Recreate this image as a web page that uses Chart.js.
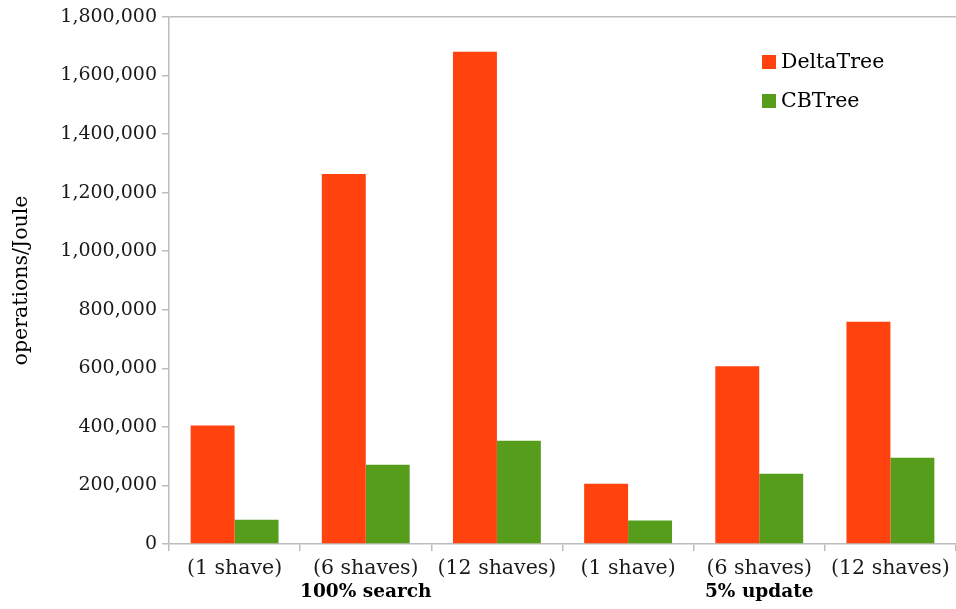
<!DOCTYPE html>
<html><head><meta charset="utf-8">
<script src="https://cdn.jsdelivr.net/npm/chart.js@4"></script>
<style>html,body{margin:0;padding:0;background:#fff}#wrap{width:956px;height:609px;position:relative}</style>
</head><body><div id="wrap"><canvas id="c"></canvas></div>
<script>
const categories = ["(1 shave)", "(6 shaves)", "(12 shaves)", "(1 shave)", "(6 shaves)", "(12 shaves)"];
const groupLabels = ["100% search", "5% update"];
const groupCenterIndex = [1, 4];
const deltaTree = [405000, 1264000, 1681000, 206000, 607000, 759000];
const cbTree = [83000, 271000, 353000, 80000, 240000, 295000];
const seriesNames = ["DeltaTree", "CBTree"];
const seriesColors = ["#ff420e", "#579d1c"];

const FONT = "'DejaVu Serif', serif";
const AXIS = "#bdbdbd";

const extras = {
  id: "extras",
  afterDraw(chart) {
    const ctx = chart.ctx, x = chart.scales.x;
    ctx.save();
    ctx.fillStyle = "#000";
    ctx.font = "bold 18.5px " + FONT;
    ctx.textAlign = "center";
    ctx.textBaseline = "middle";
    groupLabels.forEach((g, i) => {
      ctx.fillText(g, x.getPixelForValue(groupCenterIndex[i]), 592);
    });
    ctx.font = "20.5px " + FONT;
    ctx.textAlign = "left";
    chart.data.datasets.forEach((d, i) => {
      const y = 62 + i * 39;
      ctx.fillStyle = d.backgroundColor;
      ctx.fillRect(762, y - 7, 14, 14);
      ctx.fillStyle = "#000";
      ctx.fillText(d.label, 781, y + 1);
    });
    ctx.restore();
  }
};

new Chart(document.getElementById("c"), {
  type: "bar",
  data: {
    labels: categories,
    datasets: [
      { label: seriesNames[0], data: deltaTree, backgroundColor: seriesColors[0] },
      { label: seriesNames[1], data: cbTree, backgroundColor: seriesColors[1] }
    ]
  },
  options: {
    responsive: true,
    maintainAspectRatio: false,
    animation: false,
    layout: { padding: { top: 17, right: 0, left: 0, bottom: 0 } },
    datasets: { bar: { categoryPercentage: 0.67, barPercentage: 1.0 } },
    plugins: { legend: { display: false }, tooltip: { enabled: false } },
    scales: {
      x: {
        offset: true,
        grid: { offset: true, color: "transparent", tickColor: AXIS, tickLength: 7, lineWidth: 1.5 },
        border: { color: AXIS, width: 1.5 },
        ticks: { color: "#1a1a1a", font: { family: FONT, size: 20.5 }, padding: 5, maxRotation: 0, autoSkip: false },
        afterFit(s) { s.height = 65; }
      },
      y: {
        min: 0, max: 1800000,
        ticks: {
          stepSize: 200000, color: "#1a1a1a", font: { family: FONT, size: 19 }, padding: 5,
          callback: v => v.toLocaleString("en-US")
        },
        grid: {
          color: c => c.tick && c.tick.value === 1800000 ? AXIS : "transparent",
          tickColor: AXIS, tickLength: 7, lineWidth: 1.5
        },
        border: { color: AXIS, width: 1.5 },
        title: { display: true, text: "operations/Joule", color: "#000", font: { family: FONT, size: 20.5 }, padding: { top: 9, bottom: 0 } },
        afterFit(s) { s.width = 169; }
      }
    }
  },
  plugins: [extras]
});
</script></body></html>
